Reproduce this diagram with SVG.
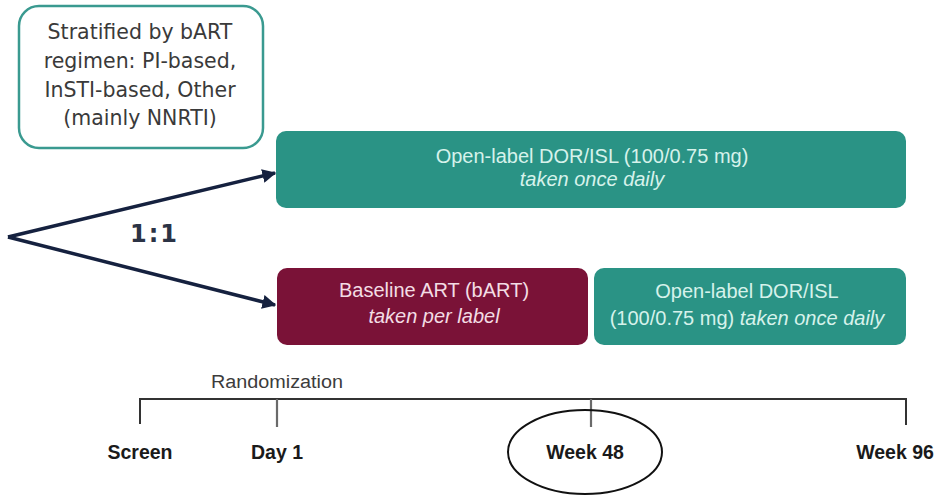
<svg xmlns="http://www.w3.org/2000/svg" width="940" height="496" viewBox="0 0 940 496">
<style>
.strat{font-family:"DejaVu Sans","Open Sans",sans-serif;font-size:20.5px;fill:#3a3a3a;text-anchor:middle}
.bx{font-family:"Liberation Sans",Arial,sans-serif;font-size:20px;text-anchor:middle}
.lt{fill:#d6f2eb}
.lm{fill:#f3dde4}
.it{font-style:italic}
.ratio{font-family:"DejaVu Sans","Open Sans",sans-serif;font-size:24px;font-weight:bold;fill:#2b3345;text-anchor:middle}
.tl{font-family:"Liberation Sans",Arial,sans-serif;font-size:19.5px;font-weight:bold;fill:#1a1a1a;text-anchor:middle}
.rnd{font-family:"Liberation Sans",Arial,sans-serif;font-size:18px;fill:#3c3c3c;text-anchor:middle}
.line{stroke:#333;stroke-width:2;fill:none}
.tick{stroke:#6a6a6a;stroke-width:2.2;fill:none}
.arrow{stroke:#15213f;stroke-width:3.5;fill:none}
</style>
<defs>
<marker id="ah" viewBox="0 0 10 10" refX="9" refY="5" markerWidth="4" markerHeight="4" orient="auto" markerUnits="strokeWidth">
<path d="M0,0 L10,5 L0,10 z" fill="#15213f"/>
</marker>
</defs>
<rect width="940" height="496" fill="#ffffff"/>
<g id="stratified">
<rect x="19" y="6" width="244" height="142" rx="20" fill="#ffffff" stroke="#3a9a90" stroke-width="2.5"/>
<text class="strat" x="140" y="39">Stratified by bART</text>
<text class="strat" x="140" y="68">regimen: PI-based,</text>
<text class="strat" x="140" y="97">InSTI-based, Other</text>
<text class="strat" x="140" y="125">(mainly NNRTI)</text>
</g>
<g id="connectors">
<line class="arrow" x1="8" y1="237" x2="275" y2="173" marker-end="url(#ah)"/>
<line class="arrow" x1="8" y1="237" x2="275" y2="305" marker-end="url(#ah)"/>
<text class="ratio" x="153.5" y="242" textLength="47" lengthAdjust="spacing">1:1</text>
</g>
<g id="arm1">
<rect x="276" y="131" width="630" height="77" rx="10" fill="#2a9385"/>
<text class="bx lt" x="592" y="163">Open-label DOR/ISL (100/0.75 mg)</text>
<text class="bx lt it" x="592" y="186">taken once daily</text>
</g>
<g id="arm2-bart">
<rect x="277" y="268" width="311" height="77" rx="10" fill="#7a1237"/>
<text class="bx lm" x="434" y="297">Baseline ART (bART)</text>
<text class="bx lm it" x="434" y="323">taken per label</text>
</g>
<g id="arm2-dorisl">
<rect x="594" y="268" width="312" height="77" rx="10" fill="#2a9385"/>
<text class="bx lt" x="747" y="298">Open-label DOR/ISL</text>
<text class="bx lt" x="747" y="325">(100/0.75 mg) <tspan class="it">taken once daily</tspan></text>
</g>
<g id="timeline">
<path class="line" d="M140,424 V399 H906 V425"/>
<line class="tick" x1="277" y1="399" x2="277" y2="427"/>
<line class="tick" x1="591" y1="399" x2="591" y2="427"/>
<text class="rnd" x="277" y="388" textLength="132" lengthAdjust="spacingAndGlyphs">Randomization</text>
<text class="tl" x="140" y="459">Screen</text>
<text class="tl" x="277" y="459">Day 1</text>
<text class="tl" x="585" y="459">Week 48</text>
<text class="tl" x="895" y="459">Week 96</text>
<ellipse cx="585" cy="452" rx="77" ry="42" fill="none" stroke="#111" stroke-width="2"/>
</g>
</svg>
